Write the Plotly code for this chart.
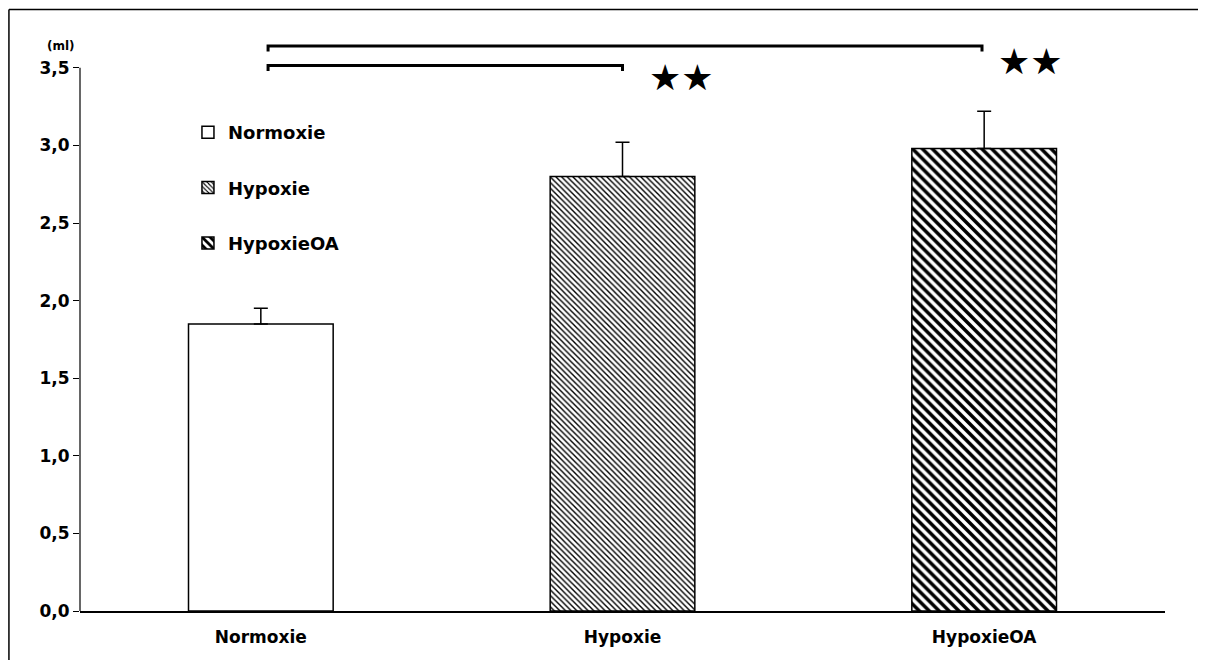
import plotly.graph_objects as go

categories = ["Normoxie", "Hypoxie", "HypoxieOA"]
values = [1.85, 2.80, 2.98]
errors = [0.10, 0.22, 0.24]
tick_vals = [0.0, 0.5, 1.0, 1.5, 2.0, 2.5, 3.0, 3.5]
patterns = ["", "\\", "\\"]
pattern_sizes = [8, 4, 7]
pattern_solidity = [0.3, 0.35, 0.5]

FONT = "DejaVu Sans, Arial, sans-serif"

fig = go.Figure()
for i, cat in enumerate(categories):
    fig.add_trace(go.Bar(
        x=[cat], y=[values[i]], name=cat, width=0.4,
        legendgroup=cat,
        marker=dict(
            color="white",
            line=dict(color="black", width=1.5),
            pattern=dict(shape=patterns[i], size=pattern_sizes[i],
                         solidity=pattern_solidity[i], fgcolor="black",
                         bgcolor="white", fillmode="replace", fgopacity=1),
        ),
        error_y=dict(type="data", array=[errors[i]], arrayminus=[0],
                     symmetric=False, color="black", thickness=1.5, width=7),
    ))

# significance brackets (data coordinates)
brackets = [(0.02, 1.0, 3.515), (0.02, 1.994, 3.64)]
for a, b, yv in brackets:
    fig.add_shape(type="path",
                  path=f"M {a},{yv-0.035} L {a},{yv} L {b},{yv} L {b},{yv-0.035}",
                  xref="x", yref="y", line=dict(color="black", width=3))
fig.add_annotation(x=1.164, y=3.44, xref="x", yref="y", text="★★", showarrow=False,
                   font=dict(size=36, color="black", family="DejaVu Sans"))
fig.add_annotation(x=2.127, y=3.54, xref="x", yref="y", text="★★", showarrow=False,
                   font=dict(size=36, color="black", family="DejaVu Sans"))

# y axis line up to 3.5
fig.add_shape(type="line", xref="paper", yref="y", x0=0, x1=0, y0=0, y1=3.5,
              line=dict(color="black", width=1.2))
# (ml) unit label
fig.add_annotation(x=-0.003, y=3.64, xref="paper", yref="y", text="(ml)", showarrow=False,
                   xanchor="right", font=dict(size=12, color="black", family=FONT, weight="bold"))
# outer frame lines (top, left)
fig.add_shape(type="line", xref="paper", yref="paper", x0=-0.0655, x1=1.04, y0=1.0335, y1=1.0335,
              line=dict(color="black", width=1.5))
fig.add_shape(type="line", xref="paper", yref="paper", x0=-0.0655, x1=-0.0655, y0=-0.09, y1=1.0335,
              line=dict(color="black", width=1.5))

fig.update_layout(
    width=1198, height=652,
    margin=dict(l=72, r=41, t=21, b=49),
    paper_bgcolor="white", plot_bgcolor="white",
    barmode="overlay",
    separators=", ",
    font=dict(family=FONT, color="black"),
    showlegend=True,
    legend=dict(x=0.0995, y=0.854, xanchor="left", yanchor="top",
                bgcolor="rgba(0,0,0,0)", tracegroupgap=29,
                font=dict(size=18, family=FONT, weight="bold"),
                itemwidth=30, traceorder="grouped"),
    xaxis=dict(showline=True, linecolor="black", linewidth=1.5,
               tickfont=dict(size=17, family=FONT, weight="bold"),
               showgrid=False, ticks="", ticklen=0, ticklabelstandoff=10),
    yaxis=dict(range=[0, 3.75], tickvals=tick_vals, tickformat=".1f",
               showline=False, showgrid=False, zeroline=False,
               ticks="outside", ticklen=6, tickcolor="black",
               tickfont=dict(size=17, family=FONT, weight="bold")),
)

fig.write_html("out.html")
